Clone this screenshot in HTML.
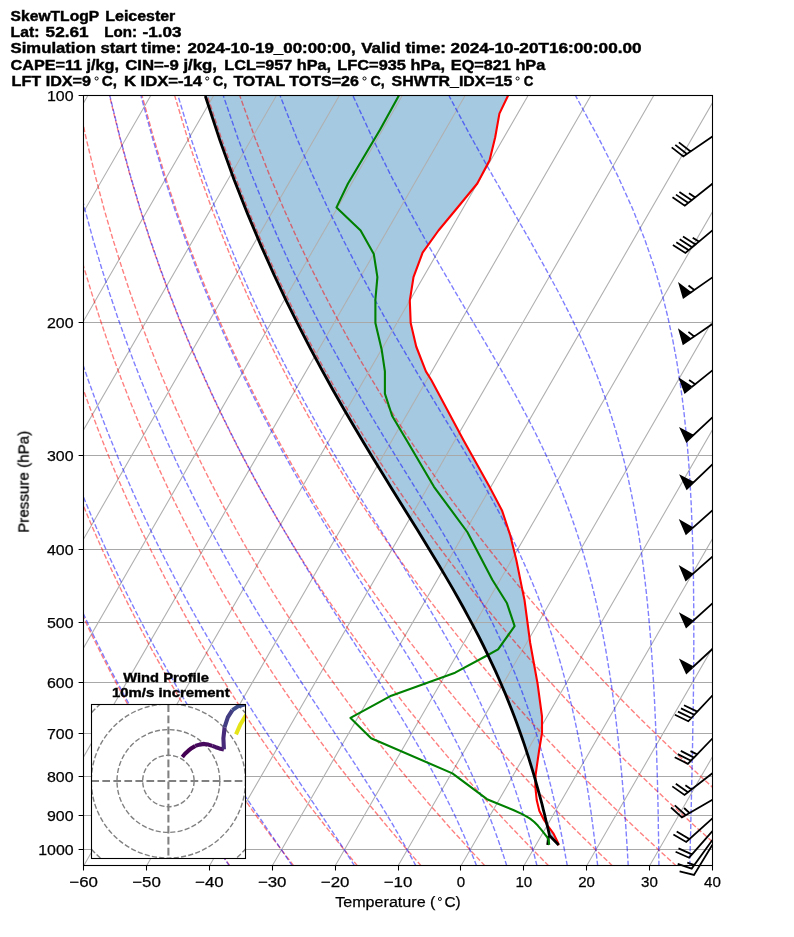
<!DOCTYPE html>
<html><head><meta charset="utf-8"><title>SkewTLogP Leicester</title>
<style>html,body{margin:0;padding:0;background:#fff}body{width:794px;height:937px;overflow:hidden;font-family:"Liberation Sans",sans-serif}svg{display:block}text{font-family:"Liberation Sans",sans-serif}</style></head><body>
<svg width="794" height="937" viewBox="0 0 794 937">
<rect width="794" height="937" fill="#fff"/>
<defs><clipPath id="ax"><rect x="83.6" y="95.95" width="628.8" height="769.9"/></clipPath>
<clipPath id="hd"><rect x="91.5" y="704.5" width="154" height="154"/></clipPath></defs>
<g clip-path="url(#ax)" fill="none">
<path d="M205.3 95.5 L206.1 98.5 L207.1 101.5 L208.1 104.5 L209.1 107.5 L210.1 110.5 L211.1 113.5 L212 116.5 L213 119.5 L214 122.5 L215 125.5 L216 128.5 L217 131.5 L218 134.5 L218.9 137.5 L219.9 140.5 L221 143.5 L222.1 146.5 L223.2 149.5 L224.3 152.5 L225.4 155.5 L226.5 158.5 L227.5 161.5 L228.6 164.5 L229.7 167.5 L230.8 170.5 L231.9 173.5 L233 176.5 L234.1 179.5 L235.2 182.5 L236.4 185.5 L237.6 188.5 L238.8 191.5 L240 194.5 L241.1 197.5 L242.3 200.5 L243.5 203.5 L244.7 206.5 L245.9 209.5 L247 212.5 L248.2 215.5 L249.5 218.5 L250.8 221.5 L252 224.5 L253.3 227.5 L254.6 230.5 L255.8 233.5 L257.1 236.5 L258.4 239.5 L259.6 242.5 L260.9 245.5 L262.2 248.5 L263.6 251.5 L264.9 254.5 L266.2 257.5 L267.6 260.5 L268.9 263.5 L270.3 266.5 L271.6 269.5 L273 272.5 L274.3 275.5 L275.7 278.5 L277.2 281.5 L278.6 284.5 L280 287.5 L281.4 290.5 L282.8 293.5 L284.2 296.5 L285.7 299.5 L287.1 302.5 L288.6 305.5 L290.1 308.5 L291.6 311.5 L293 314.5 L294.5 317.5 L296 320.5 L297.5 323.5 L299 326.5 L300.6 329.5 L302.1 332.5 L303.7 335.5 L305.2 338.5 L306.7 341.5 L308.3 344.5 L309.8 347.5 L311.4 350.5 L313 353.5 L314.6 356.5 L316.3 359.5 L317.9 362.5 L319.5 365.5 L321.1 368.5 L322.7 371.5 L324.4 374.5 L326 377.5 L327.7 380.5 L329.4 383.5 L331 386.5 L332.7 389.5 L334.4 392.5 L336.1 395.5 L337.8 398.5 L339.5 401.5 L341.2 404.5 L342.9 407.5 L344.7 410.5 L346.4 413.5 L348.2 416.5 L349.9 419.5 L351.7 422.5 L353.4 425.5 L355.2 428.5 L357 431.5 L358.8 434.5 L360.5 437.5 L362.3 440.5 L364.1 443.5 L365.9 446.5 L367.8 449.5 L369.6 452.5 L371.4 455.5 L373.2 458.5 L375 461.5 L376.9 464.5 L378.7 467.5 L380.6 470.5 L382.4 473.5 L384.2 476.5 L386.1 479.5 L387.9 482.5 L389.8 485.5 L391.7 488.5 L393.5 491.5 L395.4 494.5 L397.2 497.5 L399.1 500.5 L401 503.5 L402.8 506.5 L404.7 509.5 L406.6 512.5 L408.4 515.5 L410.3 518.5 L412.2 521.5 L414 524.5 L415.9 527.5 L417.7 530.5 L419.6 533.5 L421.4 536.5 L423.3 539.5 L425.1 542.5 L427 545.5 L428.8 548.5 L430.6 551.5 L432.5 554.5 L434.3 557.5 L436.1 560.5 L437.9 563.5 L439.7 566.5 L441.5 569.5 L443.2 572.5 L445 575.5 L446.8 578.5 L448.5 581.5 L450.3 584.5 L452 587.5 L453.8 590.5 L455.5 593.5 L457.2 596.5 L458.9 599.5 L460.5 602.5 L462.2 605.5 L463.9 608.5 L465.5 611.5 L467.2 614.5 L468.8 617.5 L470.4 620.5 L472 623.5 L473.6 626.5 L475.1 629.5 L476.7 632.5 L478.3 635.5 L479.8 638.5 L481.3 641.5 L482.8 644.5 L484.3 647.5 L485.7 650.5 L487.2 653.5 L488.6 656.5 L490.1 659.5 L491.5 662.5 L492.9 665.5 L494.2 668.5 L495.6 671.5 L497 674.5 L498.3 677.5 L499.6 680.5 L500.9 683.5 L502.2 686.5 L503.5 689.5 L504.8 692.5 L506 695.5 L507.2 698.5 L508.4 701.5 L509.6 704.5 L510.8 707.5 L512 710.5 L513.2 713.5 L514.3 716.5 L515.4 719.5 L516.6 722.5 L517.7 725.5 L518.7 728.5 L519.8 731.5 L520.9 734.5 L521.9 737.5 L522.9 740.5 L524 743.5 L525 746.5 L526 749.5 L526.9 752.5 L527.9 755.5 L528.9 758.5 L529.8 761.5 L530.7 764.5 L531.7 767.5 L532.6 770.5 L533.4 773.5 L534.3 776.5 L535.2 779.5 L535.3 780 L535.5 780 L535.5 779.5 L535.6 776.5 L535.8 773.5 L536.2 770.5 L536.7 767.5 L537.1 764.5 L537.5 761.5 L537.9 758.5 L538.4 755.5 L538.8 752.5 L539.3 749.5 L539.8 746.5 L540.3 743.5 L540.8 740.5 L541.3 737.5 L541.8 734.5 L542 731.5 L542 728.5 L542 725.5 L542 722.5 L542 719.5 L542 716.5 L541.6 713.5 L541.2 710.5 L540.8 707.5 L540.4 704.5 L540 701.5 L539.6 698.5 L539.2 695.5 L538.8 692.5 L538.4 689.5 L537.9 686.5 L537.5 683.5 L537 680.5 L536.5 677.5 L535.9 674.5 L535.4 671.5 L534.8 668.5 L534.3 665.5 L533.7 662.5 L533.2 659.5 L532.7 656.5 L532.1 653.5 L531.6 650.5 L531 647.5 L530.5 644.5 L530 641.5 L529.6 638.5 L529.2 635.5 L528.8 632.5 L528.4 629.5 L528 626.5 L527.6 623.5 L527.2 620.5 L526.8 617.5 L526.4 614.5 L526 611.5 L525.6 608.5 L525.2 605.5 L524.8 602.5 L524.4 599.5 L523.8 596.5 L523.1 593.5 L522.5 590.5 L521.9 587.5 L521.3 584.5 L520.7 581.5 L520.1 578.5 L519.5 575.5 L518.9 572.5 L518.3 569.5 L517.6 566.5 L517 563.5 L516.4 560.5 L515.7 557.5 L515 554.5 L514.2 551.5 L513.5 548.5 L512.8 545.5 L512 542.5 L511.3 539.5 L510.6 536.5 L509.7 533.5 L508.7 530.5 L507.7 527.5 L506.7 524.5 L505.7 521.5 L504.7 518.5 L503.7 515.5 L502.7 512.5 L501.5 509.5 L499.9 506.5 L498.3 503.5 L496.8 500.5 L495.2 497.5 L493.6 494.5 L492 491.5 L490.4 488.5 L488.8 485.5 L487.1 482.5 L485.4 479.5 L483.8 476.5 L482.1 473.5 L480.4 470.5 L478.7 467.5 L477.1 464.5 L475.4 461.5 L473.7 458.5 L472 455.5 L470.4 452.5 L468.7 449.5 L467 446.5 L465.4 443.5 L463.7 440.5 L462.1 437.5 L460.5 434.5 L458.9 431.5 L457.2 428.5 L455.6 425.5 L454 422.5 L452.4 419.5 L450.8 416.5 L449.2 413.5 L447.6 410.5 L446 407.5 L444.4 404.5 L442.8 401.5 L441.2 398.5 L439.6 395.5 L438 392.5 L436.4 389.5 L434.8 386.5 L433.2 383.5 L431.6 380.5 L429.7 377.5 L427.8 374.5 L426 371.5 L424.8 368.5 L423.6 365.5 L422.4 362.5 L421.3 359.5 L420.1 356.5 L418.9 353.5 L417.8 350.5 L416.6 347.5 L415.7 344.5 L415 341.5 L414.3 338.5 L413.6 335.5 L412.9 332.5 L412.2 329.5 L411.5 326.5 L410.8 323.5 L410.6 320.5 L410.5 317.5 L410.4 314.5 L410.2 311.5 L410.1 308.5 L410 305.5 L409.9 302.5 L410 299.5 L410.5 296.5 L410.9 293.5 L411.4 290.5 L411.9 287.5 L412.3 284.5 L412.8 281.5 L413.3 278.5 L414.1 275.5 L415.2 272.5 L416.3 269.5 L417.5 266.5 L418.6 263.5 L419.7 260.5 L420.8 257.5 L421.9 254.5 L423.5 251.5 L425.6 248.5 L427.8 245.5 L429.9 242.5 L432.1 239.5 L434.2 236.5 L436.4 233.5 L438.5 230.5 L441 227.5 L443.5 224.5 L446 221.5 L448.5 218.5 L450.9 215.5 L453.4 212.5 L455.9 209.5 L458.4 206.5 L460.9 203.5 L463.3 200.5 L465.8 197.5 L468.3 194.5 L470.7 191.5 L473.2 188.5 L475.7 185.5 L477.8 182.5 L479.4 179.5 L481 176.5 L482.6 173.5 L484.2 170.5 L485.8 167.5 L487.4 164.5 L489 161.5 L490 158.5 L490.8 155.5 L491.5 152.5 L492.2 149.5 L492.9 146.5 L493.7 143.5 L494.4 140.5 L495.1 137.5 L495.7 134.5 L496.2 131.5 L496.7 128.5 L497.3 125.5 L497.8 122.5 L498.3 119.5 L498.9 116.5 L499.4 113.5 L500.9 110.5 L502.3 107.5 L503.8 104.5 L505.2 101.5 L506.7 98.5 L508.1 95.5Z M547 824.5 L547.7 827.5 L548.4 830.5 L549 833.5 L550.5 836.5 L553.4 839.5 L556.3 842.5 L558.2 844.5 L558.5 844.5 L557.9 842.5 L556.4 839.5 L554.9 836.5 L553.4 833.5 L551.3 830.5 L549.1 827.5 L547 824.5Z" fill="#1f77b4" fill-opacity=".4" stroke="none"/>
<path d="M83.6 95.5H712.4 M83.6 322.5H712.4 M83.6 455.5H712.4 M83.6 549.5H712.4 M83.6 622.5H712.4 M83.6 682.5H712.4 M83.6 733.5H712.4 M83.6 776.5H712.4 M83.6 815.5H712.4 M83.6 849.5H712.4" stroke="#a8a8a8" stroke-width="1"/>
<path d="M-356.6 865.9 L87.6 96 M-293.7 865.9 L150.5 96 M-230.8 865.9 L213.4 96 M-167.9 865.9 L276.2 96 M-105 865.9 L339.1 96 M-42.2 865.9 L402 96 M20.7 865.9 L464.9 96 M83.6 865.9 L527.8 96 M146.5 865.9 L590.6 96 M209.4 865.9 L653.5 96 M272.2 865.9 L716.4 96 M335.1 865.9 L779.3 96 M398 865.9 L842.2 96 M460.9 865.9 L905 96 M523.8 865.9 L967.9 96 M586.6 865.9 L1030.8 96 M649.5 865.9 L1093.7 96 M712.4 865.9 L1156.6 96" stroke="#b0b0b0" stroke-width="1.1"/>
<path d="M229.9 865.9 L226.8 861.5 L223.7 857.1 L220.6 852.7 L217.4 848.2 L214.2 843.6 L211 839 L207.8 834.3 L204.5 829.6 L201.3 824.7 L198 819.8 L194.7 814.8 L191.3 809.8 L187.9 804.7 L184.6 799.4 L181.1 794.1 L177.7 788.8 L174.2 783.3 L170.7 777.7 L167.2 772 L163.7 766.3 L160.1 760.4 L156.5 754.4 L152.8 748.3 L149.2 742.1 L145.5 735.8 L141.7 729.3 L138 722.8 L134.2 716 L130.4 709.2 L126.5 702.2 L122.6 695 L118.7 687.7 L114.7 680.2 L110.7 672.6 L106.7 664.7 L102.6 656.7 L98.5 648.5 L94.3 640 L90.1 631.4 L85.9 622.4 L81.6 613.3 L77.3 603.9 L72.9 594.2 L68.5 584.2 L64 573.9 L59.5 563.2 L54.9 552.2 L50.3 540.8 L45.7 529 L41 516.8 L36.2 504.1 L31.4 490.9 L26.5 477.1 L21.6 462.7 L16.7 447.7 L11.7 431.9 L6.6 415.3 L1.5 397.9 L-3.6 379.4 L-8.8 359.9 L-14 339.1 L-19.2 316.9 L-24.4 293.1 L-29.6 267.5 L-34.7 239.6 L-39.7 209.2 L-44.5 175.6 L-49.1 138.2 L-53.2 96 M293.7 865.9 L290.4 861.5 L287 857.1 L283.6 852.7 L280.2 848.2 L276.8 843.6 L273.3 839 L269.8 834.3 L266.3 829.6 L262.8 824.7 L259.2 819.8 L255.6 814.8 L252 809.8 L248.4 804.7 L244.7 799.4 L241 794.1 L237.3 788.8 L233.6 783.3 L229.8 777.7 L226 772 L222.1 766.3 L218.2 760.4 L214.3 754.4 L210.4 748.3 L206.4 742.1 L202.4 735.8 L198.3 729.3 L194.3 722.8 L190.1 716 L186 709.2 L181.8 702.2 L177.6 695 L173.3 687.7 L169 680.2 L164.6 672.6 L160.2 664.7 L155.7 656.7 L151.2 648.5 L146.7 640 L142.1 631.4 L137.4 622.4 L132.8 613.3 L128 603.9 L123.2 594.2 L118.4 584.2 L113.4 573.9 L108.5 563.2 L103.4 552.2 L98.4 540.8 L93.2 529 L88 516.8 L82.7 504.1 L77.4 490.9 L72 477.1 L66.5 462.7 L60.9 447.7 L55.3 431.9 L49.6 415.3 L43.9 397.9 L38.1 379.4 L32.2 359.9 L26.3 339.1 L20.3 316.9 L14.3 293.1 L8.3 267.5 L2.3 239.6 L-3.7 209.2 L-9.6 175.6 L-15.3 138.2 L-20.6 96 M357.5 865.9 L353.9 861.5 L350.3 857.1 L346.6 852.7 L343 848.2 L339.3 843.6 L335.6 839 L331.9 834.3 L328.1 829.6 L324.3 824.7 L320.5 819.8 L316.6 814.8 L312.7 809.8 L308.8 804.7 L304.9 799.4 L300.9 794.1 L296.9 788.8 L292.9 783.3 L288.8 777.7 L284.7 772 L280.6 766.3 L276.4 760.4 L272.2 754.4 L267.9 748.3 L263.6 742.1 L259.3 735.8 L255 729.3 L250.5 722.8 L246.1 716 L241.6 709.2 L237.1 702.2 L232.5 695 L227.9 687.7 L223.2 680.2 L218.5 672.6 L213.7 664.7 L208.9 656.7 L204 648.5 L199 640 L194.1 631.4 L189 622.4 L183.9 613.3 L178.7 603.9 L173.5 594.2 L168.2 584.2 L162.9 573.9 L157.4 563.2 L151.9 552.2 L146.4 540.8 L140.7 529 L135 516.8 L129.2 504.1 L123.3 490.9 L117.4 477.1 L111.3 462.7 L105.2 447.7 L99 431.9 L92.7 415.3 L86.3 397.9 L79.8 379.4 L73.2 359.9 L66.5 339.1 L59.8 316.9 L53 293.1 L46.1 267.5 L39.2 239.6 L32.2 209.2 L25.3 175.6 L18.5 138.2 L11.9 96 M421.2 865.9 L417.4 861.5 L413.6 857.1 L409.7 852.7 L405.8 848.2 L401.8 843.6 L397.9 839 L393.9 834.3 L389.9 829.6 L385.8 824.7 L381.7 819.8 L377.6 814.8 L373.5 809.8 L369.3 804.7 L365.1 799.4 L360.8 794.1 L356.5 788.8 L352.2 783.3 L347.9 777.7 L343.5 772 L339 766.3 L334.6 760.4 L330 754.4 L325.5 748.3 L320.9 742.1 L316.2 735.8 L311.6 729.3 L306.8 722.8 L302 716 L297.2 709.2 L292.3 702.2 L287.4 695 L282.4 687.7 L277.4 680.2 L272.3 672.6 L267.2 664.7 L262 656.7 L256.7 648.5 L251.4 640 L246 631.4 L240.6 622.4 L235.1 613.3 L229.5 603.9 L223.8 594.2 L218.1 584.2 L212.3 573.9 L206.4 563.2 L200.4 552.2 L194.4 540.8 L188.3 529 L182 516.8 L175.7 504.1 L169.3 490.9 L162.8 477.1 L156.2 462.7 L149.5 447.7 L142.6 431.9 L135.7 415.3 L128.7 397.9 L121.5 379.4 L114.2 359.9 L106.8 339.1 L99.3 316.9 L91.7 293.1 L83.9 267.5 L76.1 239.6 L68.2 209.2 L60.2 175.6 L52.3 138.2 L44.5 96 M485 865.9 L480.9 861.5 L476.8 857.1 L472.7 852.7 L468.6 848.2 L464.4 843.6 L460.2 839 L455.9 834.3 L451.6 829.6 L447.3 824.7 L443 819.8 L438.6 814.8 L434.2 809.8 L429.7 804.7 L425.2 799.4 L420.7 794.1 L416.1 788.8 L411.5 783.3 L406.9 777.7 L402.2 772 L397.5 766.3 L392.7 760.4 L387.9 754.4 L383 748.3 L378.1 742.1 L373.2 735.8 L368.2 729.3 L363.1 722.8 L358 716 L352.8 709.2 L347.6 702.2 L342.3 695 L337 687.7 L331.6 680.2 L326.2 672.6 L320.7 664.7 L315.1 656.7 L309.5 648.5 L303.8 640 L298 631.4 L292.1 622.4 L286.2 613.3 L280.2 603.9 L274.1 594.2 L268 584.2 L261.7 573.9 L255.4 563.2 L248.9 552.2 L242.4 540.8 L235.8 529 L229.1 516.8 L222.2 504.1 L215.3 490.9 L208.2 477.1 L201 462.7 L193.7 447.7 L186.3 431.9 L178.7 415.3 L171 397.9 L163.2 379.4 L155.2 359.9 L147.1 339.1 L138.8 316.9 L130.3 293.1 L121.8 267.5 L113 239.6 L104.1 209.2 L95.2 175.6 L86.1 138.2 L77.1 96 M548.8 865.9 L544.5 861.5 L540.1 857.1 L535.8 852.7 L531.4 848.2 L526.9 843.6 L522.5 839 L518 834.3 L513.4 829.6 L508.8 824.7 L504.2 819.8 L499.6 814.8 L494.9 809.8 L490.2 804.7 L485.4 799.4 L480.6 794.1 L475.8 788.8 L470.9 783.3 L465.9 777.7 L461 772 L455.9 766.3 L450.9 760.4 L445.7 754.4 L440.6 748.3 L435.4 742.1 L430.1 735.8 L424.8 729.3 L419.4 722.8 L413.9 716 L408.4 709.2 L402.9 702.2 L397.3 695 L391.6 687.7 L385.9 680.2 L380.1 672.6 L374.2 664.7 L368.2 656.7 L362.2 648.5 L356.1 640 L349.9 631.4 L343.7 622.4 L337.4 613.3 L330.9 603.9 L324.4 594.2 L317.8 584.2 L311.1 573.9 L304.3 563.2 L297.4 552.2 L290.4 540.8 L283.3 529 L276.1 516.8 L268.7 504.1 L261.2 490.9 L253.6 477.1 L245.9 462.7 L238 447.7 L230 431.9 L221.8 415.3 L213.4 397.9 L204.9 379.4 L196.2 359.9 L187.3 339.1 L178.3 316.9 L169 293.1 L159.6 267.5 L149.9 239.6 L140.1 209.2 L130.1 175.6 L119.9 138.2 L109.6 96 M612.5 865.9 L608 861.5 L603.4 857.1 L598.8 852.7 L594.1 848.2 L589.5 843.6 L584.7 839 L580 834.3 L575.2 829.6 L570.4 824.7 L565.5 819.8 L560.6 814.8 L555.6 809.8 L550.6 804.7 L545.6 799.4 L540.5 794.1 L535.4 788.8 L530.2 783.3 L525 777.7 L519.7 772 L514.4 766.3 L509 760.4 L503.6 754.4 L498.1 748.3 L492.6 742.1 L487 735.8 L481.4 729.3 L475.7 722.8 L469.9 716 L464.1 709.2 L458.2 702.2 L452.2 695 L446.2 687.7 L440.1 680.2 L433.9 672.6 L427.7 664.7 L421.4 656.7 L415 648.5 L408.5 640 L401.9 631.4 L395.3 622.4 L388.5 613.3 L381.7 603.9 L374.7 594.2 L367.7 584.2 L360.5 573.9 L353.3 563.2 L345.9 552.2 L338.4 540.8 L330.8 529 L323.1 516.8 L315.2 504.1 L307.2 490.9 L299.1 477.1 L290.7 462.7 L282.3 447.7 L273.6 431.9 L264.8 415.3 L255.8 397.9 L246.6 379.4 L237.2 359.9 L227.6 339.1 L217.8 316.9 L207.7 293.1 L197.4 267.5 L186.8 239.6 L176 209.2 L165 175.6 L153.7 138.2 L142.2 96 M676.3 865.9 L671.5 861.5 L666.7 857.1 L661.8 852.7 L656.9 848.2 L652 843.6 L647 839 L642 834.3 L637 829.6 L631.9 824.7 L626.7 819.8 L621.6 814.8 L616.3 809.8 L611.1 804.7 L605.8 799.4 L600.4 794.1 L595 788.8 L589.5 783.3 L584 777.7 L578.5 772 L572.8 766.3 L567.2 760.4 L561.5 754.4 L555.7 748.3 L549.8 742.1 L543.9 735.8 L538 729.3 L531.9 722.8 L525.8 716 L519.7 709.2 L513.5 702.2 L507.1 695 L500.8 687.7 L494.3 680.2 L487.8 672.6 L481.2 664.7 L474.5 656.7 L467.7 648.5 L460.8 640 L453.9 631.4 L446.8 622.4 L439.7 613.3 L432.4 603.9 L425 594.2 L417.6 584.2 L410 573.9 L402.3 563.2 L394.4 552.2 L386.5 540.8 L378.4 529 L370.1 516.8 L361.7 504.1 L353.2 490.9 L344.5 477.1 L335.6 462.7 L326.5 447.7 L317.3 431.9 L307.9 415.3 L298.2 397.9 L288.3 379.4 L278.2 359.9 L267.9 339.1 L257.3 316.9 L246.4 293.1 L235.2 267.5 L223.8 239.6 L212 209.2 L199.9 175.6 L187.5 138.2 L174.8 96 M740 865.9 L735 861.5 L730 857.1 L724.9 852.7 L719.7 848.2 L714.5 843.6 L709.3 839 L704.1 834.3 L698.7 829.6 L693.4 824.7 L688 819.8 L682.6 814.8 L677.1 809.8 L671.5 804.7 L665.9 799.4 L660.3 794.1 L654.6 788.8 L648.9 783.3 L643.1 777.7 L637.2 772 L631.3 766.3 L625.3 760.4 L619.3 754.4 L613.2 748.3 L607.1 742.1 L600.8 735.8 L594.6 729.3 L588.2 722.8 L581.8 716 L575.3 709.2 L568.7 702.2 L562.1 695 L555.4 687.7 L548.5 680.2 L541.7 672.6 L534.7 664.7 L527.6 656.7 L520.5 648.5 L513.2 640 L505.8 631.4 L498.4 622.4 L490.8 613.3 L483.1 603.9 L475.3 594.2 L467.4 584.2 L459.4 573.9 L451.2 563.2 L442.9 552.2 L434.5 540.8 L425.9 529 L417.1 516.8 L408.2 504.1 L399.1 490.9 L389.9 477.1 L380.4 462.7 L370.8 447.7 L361 431.9 L350.9 415.3 L340.6 397.9 L330 379.4 L319.2 359.9 L308.1 339.1 L296.8 316.9 L285.1 293.1 L273.1 267.5 L260.7 239.6 L247.9 209.2 L234.8 175.6 L221.3 138.2 L207.4 96 M803.8 865.9 L798.5 861.5 L793.2 857.1 L787.9 852.7 L782.5 848.2 L777.1 843.6 L771.6 839 L766.1 834.3 L760.5 829.6 L754.9 824.7 L749.2 819.8 L743.5 814.8 L737.8 809.8 L732 804.7 L726.1 799.4 L720.2 794.1 L714.2 788.8 L708.2 783.3 L702.1 777.7 L696 772 L689.8 766.3 L683.5 760.4 L677.2 754.4 L670.8 748.3 L664.3 742.1 L657.8 735.8 L651.2 729.3 L644.5 722.8 L637.7 716 L630.9 709.2 L624 702.2 L617 695 L609.9 687.7 L602.8 680.2 L595.5 672.6 L588.2 664.7 L580.7 656.7 L573.2 648.5 L565.6 640 L557.8 631.4 L549.9 622.4 L542 613.3 L533.9 603.9 L525.6 594.2 L517.3 584.2 L508.8 573.9 L500.2 563.2 L491.4 552.2 L482.5 540.8 L473.4 529 L464.2 516.8 L454.7 504.1 L445.1 490.9 L435.3 477.1 L425.3 462.7 L415.1 447.7 L404.6 431.9 L393.9 415.3 L383 397.9 L371.7 379.4 L360.2 359.9 L348.4 339.1 L336.3 316.9 L323.8 293.1 L310.9 267.5 L297.6 239.6 L283.9 209.2 L269.7 175.6 L255.1 138.2 L239.9 96" stroke="#f00" stroke-opacity=".5" stroke-width="1.39" stroke-dasharray="5.14 2.22"/>
<path d="M229.4 865.9 L226.4 861.5 L223.5 857.1 L220.5 852.7 L217.5 848.2 L214.4 843.6 L211.3 839 L208.2 834.3 L205.1 829.6 L201.9 824.7 L198.7 819.8 L195.5 814.8 L192.2 809.8 L188.9 804.7 L185.6 799.4 L182.2 794.1 L178.8 788.8 L175.4 783.3 L172 777.7 L168.5 772 L165 766.3 L161.4 760.4 L157.9 754.4 L154.2 748.3 L150.6 742.1 L146.9 735.8 L143.2 729.3 L139.5 722.8 L135.7 716 L131.9 709.2 L128 702.2 L124.1 695 L120.2 687.7 L116.2 680.2 L112.2 672.6 L108.2 664.7 L104.1 656.7 L100 648.5 L95.8 640 L91.6 631.4 L87.4 622.4 L83.1 613.3 L78.7 603.9 L74.3 594.2 L69.9 584.2 L65.4 573.9 L60.9 563.2 L56.3 552.2 L51.7 540.8 L47 529 L42.3 516.8 L37.5 504.1 L32.7 490.9 L27.8 477.1 L22.9 462.7 L17.9 447.7 L12.9 431.9 L7.8 415.3 L2.7 397.9 L-2.4 379.4 L-7.6 359.9 L-12.8 339.1 L-18 316.9 L-23.3 293.1 L-28.5 267.5 L-33.6 239.6 L-38.6 209.2 L-43.5 175.6 L-48.1 138.2 L-52.3 96 M292.3 865.9 L289.4 861.5 L286.4 857.1 L283.4 852.7 L280.3 848.2 L277.2 843.6 L274.1 839 L270.9 834.3 L267.6 829.6 L264.4 824.7 L261.1 819.8 L257.7 814.8 L254.3 809.8 L250.9 804.7 L247.4 799.4 L243.8 794.1 L240.3 788.8 L236.7 783.3 L233 777.7 L229.3 772 L225.6 766.3 L221.8 760.4 L218 754.4 L214.1 748.3 L210.2 742.1 L206.3 735.8 L202.3 729.3 L198.2 722.8 L194.1 716 L190 709.2 L185.8 702.2 L181.6 695 L177.3 687.7 L173 680.2 L168.7 672.6 L164.3 664.7 L159.8 656.7 L155.3 648.5 L150.7 640 L146.1 631.4 L141.5 622.4 L136.7 613.3 L132 603.9 L127.1 594.2 L122.3 584.2 L117.3 573.9 L112.3 563.2 L107.3 552.2 L102.1 540.8 L96.9 529 L91.7 516.8 L86.4 504.1 L81 490.9 L75.5 477.1 L70 462.7 L64.4 447.7 L58.8 431.9 L53 415.3 L47.2 397.9 L41.4 379.4 L35.4 359.9 L29.5 339.1 L23.4 316.9 L17.4 293.1 L11.3 267.5 L5.2 239.6 L-0.9 209.2 L-6.8 175.6 L-12.6 138.2 L-18.1 96 M354.6 865.9 L351.8 861.5 L349 857.1 L346.2 852.7 L343.3 848.2 L340.3 843.6 L337.3 839 L334.2 834.3 L331 829.6 L327.8 824.7 L324.6 819.8 L321.3 814.8 L317.9 809.8 L314.5 804.7 L311 799.4 L307.4 794.1 L303.8 788.8 L300.2 783.3 L296.4 777.7 L292.6 772 L288.8 766.3 L284.9 760.4 L280.9 754.4 L276.9 748.3 L272.8 742.1 L268.6 735.8 L264.4 729.3 L260.1 722.8 L255.8 716 L251.4 709.2 L247 702.2 L242.5 695 L237.9 687.7 L233.2 680.2 L228.5 672.6 L223.8 664.7 L219 656.7 L214.1 648.5 L209.1 640 L204.1 631.4 L199 622.4 L193.9 613.3 L188.6 603.9 L183.4 594.2 L178 584.2 L172.6 573.9 L167.1 563.2 L161.5 552.2 L155.8 540.8 L150.1 529 L144.3 516.8 L138.4 504.1 L132.4 490.9 L126.4 477.1 L120.2 462.7 L114 447.7 L107.6 431.9 L101.2 415.3 L94.7 397.9 L88 379.4 L81.3 359.9 L74.5 339.1 L67.6 316.9 L60.6 293.1 L53.6 267.5 L46.5 239.6 L39.4 209.2 L32.2 175.6 L25.2 138.2 L18.4 96 M415.9 865.9 L413.6 861.5 L411.2 857.1 L408.8 852.7 L406.3 848.2 L403.7 843.6 L401.1 839 L398.4 834.3 L395.6 829.6 L392.8 824.7 L389.9 819.8 L386.9 814.8 L383.8 809.8 L380.7 804.7 L377.4 799.4 L374.1 794.1 L370.8 788.8 L367.3 783.3 L363.7 777.7 L360.1 772 L356.4 766.3 L352.6 760.4 L348.7 754.4 L344.7 748.3 L340.7 742.1 L336.5 735.8 L332.3 729.3 L327.9 722.8 L323.5 716 L319 709.2 L314.4 702.2 L309.7 695 L305 687.7 L300.1 680.2 L295.2 672.6 L290.1 664.7 L285 656.7 L279.8 648.5 L274.5 640 L269.1 631.4 L263.6 622.4 L258 613.3 L252.3 603.9 L246.6 594.2 L240.7 584.2 L234.8 573.9 L228.7 563.2 L222.6 552.2 L216.4 540.8 L210.1 529 L203.6 516.8 L197.1 504.1 L190.5 490.9 L183.7 477.1 L176.8 462.7 L169.9 447.7 L162.8 431.9 L155.5 415.3 L148.2 397.9 L140.7 379.4 L133.1 359.9 L125.4 339.1 L117.5 316.9 L109.5 293.1 L101.4 267.5 L93.1 239.6 L84.8 209.2 L76.3 175.6 L67.9 138.2 L59.5 96 M476.6 865.9 L474.9 861.5 L473.1 857.1 L471.3 852.7 L469.4 848.2 L467.5 843.6 L465.5 839 L463.4 834.3 L461.3 829.6 L459.1 824.7 L456.9 819.8 L454.5 814.8 L452.1 809.8 L449.6 804.7 L447 799.4 L444.4 794.1 L441.6 788.8 L438.8 783.3 L435.9 777.7 L432.8 772 L429.7 766.3 L426.4 760.4 L423.1 754.4 L419.6 748.3 L416 742.1 L412.3 735.8 L408.5 729.3 L404.6 722.8 L400.5 716 L396.3 709.2 L392 702.2 L387.5 695 L382.9 687.7 L378.1 680.2 L373.2 672.6 L368.2 664.7 L363.1 656.7 L357.8 648.5 L352.3 640 L346.7 631.4 L341 622.4 L335.1 613.3 L329.1 603.9 L323 594.2 L316.7 584.2 L310.3 573.9 L303.7 563.2 L297 552.2 L290.2 540.8 L283.2 529 L276.1 516.8 L268.8 504.1 L261.4 490.9 L253.9 477.1 L246.1 462.7 L238.3 447.7 L230.3 431.9 L222.1 415.3 L213.8 397.9 L205.3 379.4 L196.6 359.9 L187.7 339.1 L178.6 316.9 L169.4 293.1 L159.9 267.5 L150.2 239.6 L140.4 209.2 L130.4 175.6 L120.2 138.2 L109.9 96 M506.8 865.9 L505.4 861.5 L504 857.1 L502.5 852.7 L501 848.2 L499.4 843.6 L497.8 839 L496.1 834.3 L494.4 829.6 L492.6 824.7 L490.7 819.8 L488.8 814.8 L486.8 809.8 L484.8 804.7 L482.7 799.4 L480.4 794.1 L478.2 788.8 L475.8 783.3 L473.3 777.7 L470.7 772 L468.1 766.3 L465.3 760.4 L462.5 754.4 L459.5 748.3 L456.4 742.1 L453.1 735.8 L449.8 729.3 L446.3 722.8 L442.7 716 L438.9 709.2 L435 702.2 L430.9 695 L426.7 687.7 L422.3 680.2 L417.7 672.6 L413 664.7 L408.1 656.7 L403 648.5 L397.8 640 L392.3 631.4 L386.7 622.4 L380.9 613.3 L374.9 603.9 L368.7 594.2 L362.4 584.2 L355.8 573.9 L349.1 563.2 L342.2 552.2 L335.1 540.8 L327.8 529 L320.4 516.8 L312.8 504.1 L304.9 490.9 L297 477.1 L288.8 462.7 L280.4 447.7 L271.9 431.9 L263.1 415.3 L254.2 397.9 L245 379.4 L235.7 359.9 L226.1 339.1 L216.3 316.9 L206.3 293.1 L196 267.5 L185.5 239.6 L174.7 209.2 L163.7 175.6 L152.5 138.2 L141 96 M537 865.9 L535.9 861.5 L534.8 857.1 L533.7 852.7 L532.5 848.2 L531.3 843.6 L530.1 839 L528.8 834.3 L527.5 829.6 L526.1 824.7 L524.7 819.8 L523.2 814.8 L521.7 809.8 L520.1 804.7 L518.4 799.4 L516.7 794.1 L514.9 788.8 L513 783.3 L511.1 777.7 L509.1 772 L507 766.3 L504.8 760.4 L502.5 754.4 L500.1 748.3 L497.6 742.1 L495 735.8 L492.3 729.3 L489.4 722.8 L486.5 716 L483.3 709.2 L480.1 702.2 L476.7 695 L473.1 687.7 L469.3 680.2 L465.4 672.6 L461.3 664.7 L456.9 656.7 L452.4 648.5 L447.7 640 L442.7 631.4 L437.5 622.4 L432.1 613.3 L426.5 603.9 L420.6 594.2 L414.4 584.2 L408 573.9 L401.4 563.2 L394.5 552.2 L387.4 540.8 L379.9 529 L372.3 516.8 L364.4 504.1 L356.3 490.9 L347.9 477.1 L339.2 462.7 L330.4 447.7 L321.2 431.9 L311.9 415.3 L302.3 397.9 L292.4 379.4 L282.3 359.9 L271.9 339.1 L261.2 316.9 L250.3 293.1 L239.1 267.5 L227.5 239.6 L215.6 209.2 L203.4 175.6 L190.9 138.2 L178.1 96 M567.3 865.9 L566.5 861.5 L565.7 857.1 L564.9 852.7 L564.1 848.2 L563.2 843.6 L562.4 839 L561.4 834.3 L560.5 829.6 L559.5 824.7 L558.5 819.8 L557.4 814.8 L556.3 809.8 L555.2 804.7 L554 799.4 L552.7 794.1 L551.5 788.8 L550.1 783.3 L548.7 777.7 L547.3 772 L545.7 766.3 L544.1 760.4 L542.5 754.4 L540.7 748.3 L538.9 742.1 L537 735.8 L535 729.3 L532.9 722.8 L530.6 716 L528.3 709.2 L525.8 702.2 L523.2 695 L520.5 687.7 L517.6 680.2 L514.6 672.6 L511.3 664.7 L507.9 656.7 L504.3 648.5 L500.5 640 L496.5 631.4 L492.2 622.4 L487.6 613.3 L482.8 603.9 L477.7 594.2 L472.3 584.2 L466.6 573.9 L460.6 563.2 L454.2 552.2 L447.5 540.8 L440.5 529 L433 516.8 L425.2 504.1 L417.1 490.9 L408.6 477.1 L399.7 462.7 L390.5 447.7 L380.9 431.9 L370.9 415.3 L360.7 397.9 L350 379.4 L339.1 359.9 L327.7 339.1 L316.1 316.9 L304 293.1 L291.6 267.5 L278.8 239.6 L265.6 209.2 L252 175.6 L237.9 138.2 L223.4 96 M597.7 865.9 L597.2 861.5 L596.7 857.1 L596.2 852.7 L595.7 848.2 L595.1 843.6 L594.5 839 L593.9 834.3 L593.3 829.6 L592.7 824.7 L592 819.8 L591.4 814.8 L590.7 809.8 L589.9 804.7 L589.2 799.4 L588.4 794.1 L587.5 788.8 L586.7 783.3 L585.7 777.7 L584.8 772 L583.8 766.3 L582.8 760.4 L581.7 754.4 L580.5 748.3 L579.4 742.1 L578.1 735.8 L576.8 729.3 L575.4 722.8 L573.9 716 L572.4 709.2 L570.7 702.2 L569 695 L567.2 687.7 L565.2 680.2 L563.1 672.6 L561 664.7 L558.6 656.7 L556.1 648.5 L553.5 640 L550.6 631.4 L547.6 622.4 L544.3 613.3 L540.8 603.9 L537.1 594.2 L533 584.2 L528.7 573.9 L524 563.2 L518.9 552.2 L513.5 540.8 L507.7 529 L501.4 516.8 L494.6 504.1 L487.3 490.9 L479.5 477.1 L471.2 462.7 L462.3 447.7 L452.8 431.9 L442.8 415.3 L432.2 397.9 L421 379.4 L409.4 359.9 L397.2 339.1 L384.4 316.9 L371.2 293.1 L357.4 267.5 L343.1 239.6 L328.3 209.2 L312.8 175.6 L296.8 138.2 L280.2 96 M628.2 865.9 L628 861.5 L627.7 857.1 L627.5 852.7 L627.2 848.2 L626.9 843.6 L626.6 839 L626.3 834.3 L626 829.6 L625.7 824.7 L625.3 819.8 L625 814.8 L624.6 809.8 L624.2 804.7 L623.8 799.4 L623.4 794.1 L622.9 788.8 L622.5 783.3 L622 777.7 L621.5 772 L620.9 766.3 L620.4 760.4 L619.8 754.4 L619.2 748.3 L618.5 742.1 L617.8 735.8 L617.1 729.3 L616.3 722.8 L615.5 716 L614.7 709.2 L613.8 702.2 L612.8 695 L611.8 687.7 L610.7 680.2 L609.5 672.6 L608.2 664.7 L606.9 656.7 L605.5 648.5 L603.9 640 L602.3 631.4 L600.5 622.4 L598.6 613.3 L596.5 603.9 L594.2 594.2 L591.8 584.2 L589.1 573.9 L586.2 563.2 L583 552.2 L579.5 540.8 L575.6 529 L571.4 516.8 L566.7 504.1 L561.6 490.9 L555.9 477.1 L549.6 462.7 L542.6 447.7 L534.9 431.9 L526.3 415.3 L517 397.9 L506.7 379.4 L495.4 359.9 L483.2 339.1 L470.1 316.9 L456 293.1 L441.1 267.5 L425.2 239.6 L408.5 209.2 L390.9 175.6 L372.5 138.2 L353.1 96 M658.9 865.9 L658.9 861.5 L658.8 857.1 L658.8 852.7 L658.7 848.2 L658.6 843.6 L658.6 839 L658.5 834.3 L658.4 829.6 L658.3 824.7 L658.3 819.8 L658.2 814.8 L658.1 809.8 L658 804.7 L657.9 799.4 L657.7 794.1 L657.6 788.8 L657.5 783.3 L657.3 777.7 L657.2 772 L657 766.3 L656.8 760.4 L656.7 754.4 L656.5 748.3 L656.2 742.1 L656 735.8 L655.8 729.3 L655.5 722.8 L655.2 716 L654.9 709.2 L654.6 702.2 L654.2 695 L653.8 687.7 L653.4 680.2 L652.9 672.6 L652.4 664.7 L651.9 656.7 L651.3 648.5 L650.7 640 L650 631.4 L649.2 622.4 L648.4 613.3 L647.5 603.9 L646.5 594.2 L645.4 584.2 L644.2 573.9 L642.9 563.2 L641.4 552.2 L639.7 540.8 L637.9 529 L635.8 516.8 L633.5 504.1 L630.8 490.9 L627.9 477.1 L624.5 462.7 L620.6 447.7 L616.2 431.9 L611.1 415.3 L605.3 397.9 L598.5 379.4 L590.7 359.9 L581.6 339.1 L571 316.9 L558.9 293.1 L545 267.5 L529.4 239.6 L511.9 209.2 L492.6 175.6 L471.7 138.2 L449.1 96 M689.8 865.9 L689.9 861.5 L690 857.1 L690.1 852.7 L690.2 848.2 L690.3 843.6 L690.4 839 L690.6 834.3 L690.7 829.6 L690.8 824.7 L690.9 819.8 L691 814.8 L691.1 809.8 L691.3 804.7 L691.4 799.4 L691.5 794.1 L691.6 788.8 L691.7 783.3 L691.9 777.7 L692 772 L692.1 766.3 L692.2 760.4 L692.4 754.4 L692.5 748.3 L692.6 742.1 L692.7 735.8 L692.8 729.3 L692.9 722.8 L693.1 716 L693.2 709.2 L693.3 702.2 L693.4 695 L693.5 687.7 L693.5 680.2 L693.6 672.6 L693.7 664.7 L693.7 656.7 L693.8 648.5 L693.8 640 L693.8 631.4 L693.8 622.4 L693.8 613.3 L693.7 603.9 L693.6 594.2 L693.5 584.2 L693.4 573.9 L693.2 563.2 L692.9 552.2 L692.6 540.8 L692.2 529 L691.7 516.8 L691.2 504.1 L690.5 490.9 L689.7 477.1 L688.7 462.7 L687.5 447.7 L686 431.9 L684.3 415.3 L682.2 397.9 L679.6 379.4 L676.5 359.9 L672.6 339.1 L667.8 316.9 L661.9 293.1 L654.4 267.5 L644.8 239.6 L632.8 209.2 L617.6 175.6 L598.7 138.2 L575.7 96" stroke="#00f" stroke-opacity=".5" stroke-width="1.39" stroke-dasharray="5.14 2.22"/>
<path d="M548.6 836 L547.6 845" stroke="#000" stroke-width="2.6"/>
<path d="M508.1 95.5 L499.4 113.6 L495.2 137.2 L489.6 160.3 L477.3 183.5 L458 207 L438.5 230.5 L422.6 252.7 L413.5 277.1 L409.8 300.7 L410.7 322.9 L416.2 346.5 L425.9 371.4 L431.3 380 L463.4 440 L489.5 486.8 L502 510.4 L510.3 535.4 L516.4 560.3 L522 588.1 L524.5 600 L530.2 643 L537.5 683.2 L542 716.5 L542 733.2 L539.2 749.8 L535.6 774.8 L535.3 786.7 L536.7 800 L539.3 810.7 L544 820 L548 826 L553.3 833.3 L558 842.7 L558.7 845.3" stroke="#f00" stroke-width="2.1" stroke-linejoin="round"/>
<path d="M398.9 95.5 L380 129.7 L348 183.5 L336.5 207.4 L360.6 230.5 L373.8 254.1 L377.4 277.1 L375.4 299.3 L375.4 322.9 L381.6 349.2 L384.9 371.4 L384.9 393.6 L392.2 416 L406.5 440 L434 486.8 L467.3 532 L492.3 579.8 L507 603.3 L514.6 626.2 L498.1 649.4 L487 655.5 L455.1 672.7 L391.3 695.7 L350.5 717.9 L371.1 738.2 L452.4 773.4 L487 799.2 L513.3 810 L521.7 813.9 L525 815.7 L530.1 818.6 L534 821.8 L537.8 825.6 L541 829.4 L544.2 833.3 L547.1 837.1 L548.7 840.3 L549.2 844.9" stroke="#008000" stroke-width="2.1" stroke-linejoin="round"/>
<path d="M205.3 96 L219.9 140.4 L234 179.5 L247.8 214.4 L261.1 245.9 L274 274.7 L286.4 301.2 L298.6 325.6 L310.3 348.4 L321.7 369.7 L332.8 389.7 L343.5 408.5 L353.9 426.3 L364 443.2 L373.7 459.3 L383.1 474.6 L392.1 489.2 L400.8 503.3 L409.2 516.7 L417.2 529.6 L424.8 542 L432.1 554 L439.1 565.5 L445.7 576.6 L452 587.4 L457.9 597.8 L463.6 608 L468.9 617.8 L474 627.3 L478.8 636.5 L483.3 645.5 L487.6 654.3 L491.6 662.8 L495.5 671.1 L499.1 679.3 L502.5 687.2 L505.8 694.9 L508.8 702.4 L511.7 709.8 L514.5 717 L517.1 724.1 L519.6 731 L522 737.8 L524.3 744.4 L526.4 750.9 L528.5 757.3 L530.4 763.5 L532.3 769.7 L534.1 775.7 L535.8 781.6 L537.4 787.4 L539 793.1 L540.5 798.7 L542 804.2 L543.3 809.6 L544.7 815 L545.9 820.2 L547.2 825.4 L548.4 830.5 L549.5 835.5 L558.7 845" stroke="#000" stroke-width="2.8" stroke-linejoin="round"/>
</g>
<path d="M712.4 136.5 L683.3 156.5 L671.7 147.4 L683.3 156.5 L686.9 154.0 L675.3 144.9 L686.9 154.0 L690.6 151.5 L678.9 142.4 L690.6 151.5Z M712.4 183.7 L684.8 205.7 L672.5 197.3 L684.8 205.7 L688.2 202.9 L676.0 194.6 L688.2 202.9 L691.7 200.2 L679.4 191.9 L691.7 200.2 L695.1 197.4 L689.0 193.3 L695.1 197.4Z M712.4 230.3 L685.4 253.0 L672.9 245.0 L685.4 253.0 L688.7 250.2 L676.3 242.2 L688.7 250.2 L692.1 247.3 L679.7 239.3 L692.1 247.3 L695.5 244.5 L683.0 236.5 L695.5 244.5 L698.9 241.6 L692.7 237.7 L698.9 241.6Z M712.4 277.4 L683.5 297.6 L679.6 284.3 L690.7 292.6 L694.3 290.0 L688.5 285.5 L694.3 290.0Z M712.4 324.0 L683.3 343.9 L679.5 330.6 L690.5 338.9 L694.2 336.5 L688.4 331.9 L694.2 336.5Z M712.4 370.4 L684.9 392.5 L680.1 379.5 L691.8 387.0 L695.2 384.2 L689.1 380.1 L695.2 384.2Z M712.4 417.4 L686.6 441.5 L680.9 428.9 L693.1 435.5Z M712.4 464.3 L686.9 488.7 L681.0 476.2 L693.3 482.6Z M712.4 510.3 L686.1 533.9 L680.6 521.1 L692.7 528.0Z M712.4 556.7 L685.9 580.0 L680.5 567.2 L692.5 574.2Z M712.4 603.3 L686.3 627.0 L680.7 614.3 L692.8 621.1Z M712.4 649.0 L686.5 673.0 L680.8 660.4 L693.0 667.0Z M712.4 695.5 L688.3 721.3 L674.9 714.8 L688.3 721.3 L691.3 718.0 L678.0 711.6 L691.3 718.0 L694.3 714.8 L681.0 708.4 L694.3 714.8 L697.3 711.6 L684.0 705.2 L697.3 711.6Z M712.4 738.5 L687.9 763.9 L674.7 757.3 L687.9 763.9 L691.0 760.7 L677.7 754.1 L691.0 760.7 L694.0 757.6 L680.8 750.9 L694.0 757.6 L697.1 754.4 L690.5 751.1 L697.1 754.4Z M712.4 773.3 L684.5 794.9 L672.3 786.4 L684.5 794.9 L688.0 792.2 L675.8 783.7 L688.0 792.2 L691.4 789.5 L685.4 785.2 L691.4 789.5Z M712.4 799.7 L681.9 817.5 L671.0 807.5 L681.9 817.5 L685.7 815.2 L674.8 805.3 L685.7 815.2 L689.5 813.0 L684.1 808.0 L689.5 813.0Z M712.4 818.4 L686.2 842.0 L673.4 834.5 L686.2 842.0 L689.4 839.1 L676.7 831.5 L689.4 839.1Z M712.4 831.2 L689.1 857.7 L675.6 851.7 L689.1 857.7 L692.0 854.4 L678.5 848.4 L692.0 854.4Z M712.4 840.0 L691.7 868.6 L677.7 863.9 L691.7 868.6 L694.3 865.0 L687.3 862.7 L694.3 865.0Z M712.4 844.8 L694.0 874.9 L679.6 871.3 L694.0 874.9Z" fill="#000" stroke="#000" stroke-width="1.75" stroke-linejoin="miter" stroke-miterlimit="10"/>
<rect x="91.5" y="704.5" width="154" height="154" fill="#fff"/>
<g clip-path="url(#hd)" fill="none">
<circle cx="168.4" cy="781.0" r="25.7" stroke="#808080" stroke-width="1.39" stroke-dasharray="5.14 2.22"/>
<circle cx="168.4" cy="781.0" r="51.4" stroke="#808080" stroke-width="1.39" stroke-dasharray="5.14 2.22"/>
<circle cx="168.4" cy="781.0" r="77.1" stroke="#808080" stroke-width="1.39" stroke-dasharray="5.14 2.22"/>
<circle cx="168.4" cy="781.0" r="102.8" stroke="#808080" stroke-width="1.39" stroke-dasharray="5.14 2.22"/>
<path d="M91.3 781.0H245.6M168.4 704.4V858.4" stroke="#808080" stroke-width="2.08" stroke-dasharray="7.7 3.33"/>
<path d="M182.3 757 L185 753.8 L188.1 750.9 L191.5 748.2 L195.2 745.9" stroke="#440154" stroke-width="4.1" stroke-linejoin="round"/>
<path d="M195.2 745.9 L199.5 744.6 L204.2 743.9 L208.3 744.6 L212.3 745.9" stroke="#46085c" stroke-width="4.1" stroke-linejoin="round"/>
<path d="M212.3 745.9 L215.8 747.2 L219.3 748.4 L223.9 749.4" stroke="#471164" stroke-width="4.1" stroke-linejoin="round"/>
<path d="M223.9 749.4 L223.4 738.3 L224.6 727.2" stroke="#472a7a" stroke-width="4.1" stroke-linejoin="round"/>
<path d="M224.6 727.2 L227.9 717.2 L232.4 710.1" stroke="#433d84" stroke-width="4.1" stroke-linejoin="round"/>
<path d="M232.4 710.1 L237.5 706.6 L242.5 705.1 L247 704" stroke="#3d4d8a" stroke-width="4.1" stroke-linejoin="round"/>
<path d="M236 734.3 L240.5 724.2 L245 716.7 L247 714" stroke="#e5e419" stroke-width="4.1" stroke-linejoin="round"/>
</g>
<rect x="91.5" y="704.5" width="154" height="154" fill="none" stroke="#000" stroke-width="1.1"/>
<rect x="83.5" y="95.5" width="629" height="770" fill="none" stroke="#000" stroke-width="1.1"/>
<path d="M83.5 95.5h-4.9M83.5 322.5h-4.9M83.5 455.5h-4.9M83.5 549.5h-4.9M83.5 622.5h-4.9M83.5 682.5h-4.9M83.5 733.5h-4.9M83.5 776.5h-4.9M83.5 815.5h-4.9M83.5 849.5h-4.9M83.5 865.5v4.9M146.5 865.5v4.9M209.5 865.5v4.9M272.5 865.5v4.9M335.5 865.5v4.9M398.5 865.5v4.9M460.5 865.5v4.9M523.5 865.5v4.9M586.5 865.5v4.9M649.5 865.5v4.9M712.5 865.5v4.9" stroke="#000" stroke-width="1.05" fill="none"/>
<g font-size="14.7" fill="#000" stroke="#000" stroke-width=".25" opacity=".999">
<text x="73.6" y="100.7" text-anchor="end" textLength="26.6" lengthAdjust="spacingAndGlyphs">100</text>
<text x="73.6" y="327.7" text-anchor="end" textLength="26.6" lengthAdjust="spacingAndGlyphs">200</text>
<text x="73.6" y="460.7" text-anchor="end" textLength="26.6" lengthAdjust="spacingAndGlyphs">300</text>
<text x="73.6" y="554.7" text-anchor="end" textLength="26.6" lengthAdjust="spacingAndGlyphs">400</text>
<text x="73.6" y="627.7" text-anchor="end" textLength="26.6" lengthAdjust="spacingAndGlyphs">500</text>
<text x="73.6" y="687.7" text-anchor="end" textLength="26.6" lengthAdjust="spacingAndGlyphs">600</text>
<text x="73.6" y="738.7" text-anchor="end" textLength="26.6" lengthAdjust="spacingAndGlyphs">700</text>
<text x="73.6" y="781.7" text-anchor="end" textLength="26.6" lengthAdjust="spacingAndGlyphs">800</text>
<text x="73.6" y="820.7" text-anchor="end" textLength="26.6" lengthAdjust="spacingAndGlyphs">900</text>
<text x="73.6" y="854.7" text-anchor="end" textLength="35.4" lengthAdjust="spacingAndGlyphs">1000</text>
<text x="83.6" y="887.1" text-anchor="middle" textLength="28.6" lengthAdjust="spacingAndGlyphs">−60</text>
<text x="146.5" y="887.1" text-anchor="middle" textLength="28.6" lengthAdjust="spacingAndGlyphs">−50</text>
<text x="209.4" y="887.1" text-anchor="middle" textLength="28.6" lengthAdjust="spacingAndGlyphs">−40</text>
<text x="272.2" y="887.1" text-anchor="middle" textLength="28.6" lengthAdjust="spacingAndGlyphs">−30</text>
<text x="335.1" y="887.1" text-anchor="middle" textLength="28.6" lengthAdjust="spacingAndGlyphs">−20</text>
<text x="398.0" y="887.1" text-anchor="middle" textLength="28.6" lengthAdjust="spacingAndGlyphs">−10</text>
<text x="460.9" y="887.1" text-anchor="middle" textLength="8.4" lengthAdjust="spacingAndGlyphs">0</text>
<text x="523.8" y="887.1" text-anchor="middle" textLength="16.8" lengthAdjust="spacingAndGlyphs">10</text>
<text x="586.6" y="887.1" text-anchor="middle" textLength="16.8" lengthAdjust="spacingAndGlyphs">20</text>
<text x="649.5" y="887.1" text-anchor="middle" textLength="16.8" lengthAdjust="spacingAndGlyphs">30</text>
<text x="712.4" y="887.1" text-anchor="middle" textLength="16.8" lengthAdjust="spacingAndGlyphs">40</text>
<text x="335.2" y="907.3" textLength="100.3" lengthAdjust="spacingAndGlyphs">Temperature (</text>
<circle cx="439.9" cy="899" r="1.55" fill="none" stroke="#000" stroke-width=".9"/>
<text x="444.5" y="907.3" textLength="16.2" lengthAdjust="spacingAndGlyphs">C)</text>
<text stroke-width=".3" transform="translate(28.6 481.8) rotate(-90)" text-anchor="middle" textLength="102" lengthAdjust="spacingAndGlyphs">Pressure (hPa)</text>
</g>
<g font-size="14.4" font-weight="bold" fill="#000" stroke="#000" stroke-width=".42" opacity=".999">
<text x="10.6" y="20.8" textLength="88.6" lengthAdjust="spacingAndGlyphs">SkewTLogP</text>
<text x="105.3" y="20.8" textLength="70" lengthAdjust="spacingAndGlyphs">Leicester</text>
<text x="10.6" y="37.1" textLength="28.8" lengthAdjust="spacingAndGlyphs">Lat:</text>
<text x="45.6" y="37.1" textLength="43" lengthAdjust="spacingAndGlyphs">52.61</text>
<text x="104.3" y="37.1" textLength="32.8" lengthAdjust="spacingAndGlyphs">Lon:</text>
<text x="142.6" y="37.1" textLength="39" lengthAdjust="spacingAndGlyphs">-1.03</text>
<text x="10.6" y="53.4" textLength="170.6" lengthAdjust="spacingAndGlyphs">Simulation start time:</text>
<text x="187.4" y="53.4" textLength="168.2" lengthAdjust="spacingAndGlyphs">2024-10-19_00:00:00,</text>
<text x="361.2" y="53.4" textLength="84.8" lengthAdjust="spacingAndGlyphs">Valid time:</text>
<text x="450.6" y="53.4" textLength="191" lengthAdjust="spacingAndGlyphs">2024-10-20T16:00:00.00</text>
<text x="10.6" y="69.7" textLength="108.4" lengthAdjust="spacingAndGlyphs">CAPE=11 j/kg,</text>
<text x="125.2" y="69.7" textLength="91.8" lengthAdjust="spacingAndGlyphs">CIN=-9 j/kg,</text>
<text x="224.3" y="69.7" textLength="106.8" lengthAdjust="spacingAndGlyphs">LCL=957 hPa,</text>
<text x="337.3" y="69.7" textLength="107.7" lengthAdjust="spacingAndGlyphs">LFC=935 hPa,</text>
<text x="450.8" y="69.7" textLength="94.4" lengthAdjust="spacingAndGlyphs">EQ=821 hPa</text>
<text x="11.6" y="86.4" textLength="79.4" lengthAdjust="spacingAndGlyphs">LFT IDX=9</text>
<circle cx="96.6" cy="78.5" r="1.55" fill="none" stroke="#000" stroke-width="1.0"/>
<text x="101.8" y="86.4" textLength="15.2" lengthAdjust="spacingAndGlyphs">C,</text>
<text x="123.9" y="86.4" textLength="78.2" lengthAdjust="spacingAndGlyphs">K IDX=-14</text>
<circle cx="207.2" cy="78.5" r="1.55" fill="none" stroke="#000" stroke-width="1.0"/>
<text x="213" y="86.4" textLength="14.2" lengthAdjust="spacingAndGlyphs">C,</text>
<text x="233.4" y="86.4" textLength="125.4" lengthAdjust="spacingAndGlyphs">TOTAL TOTS=26</text>
<circle cx="364.5" cy="78.5" r="1.55" fill="none" stroke="#000" stroke-width="1.0"/>
<text x="370.4" y="86.4" textLength="14.2" lengthAdjust="spacingAndGlyphs">C,</text>
<text x="391.6" y="86.4" textLength="120.9" lengthAdjust="spacingAndGlyphs">SHWTR_IDX=15</text>
<circle cx="517.6" cy="78.5" r="1.55" fill="none" stroke="#000" stroke-width="1.0"/>
<text x="523.8" y="86.4" textLength="9.6" lengthAdjust="spacingAndGlyphs">C</text>
</g>
<g font-size="13" font-weight="bold" fill="#000" stroke="#000" stroke-width=".4" opacity=".999">
<text x="123.3" y="682.2" textLength="85.6" lengthAdjust="spacingAndGlyphs">Wind Profile</text>
<text x="112" y="696.9" textLength="117.6" lengthAdjust="spacingAndGlyphs">10m/s increment</text>
</g>
</svg></body></html>
